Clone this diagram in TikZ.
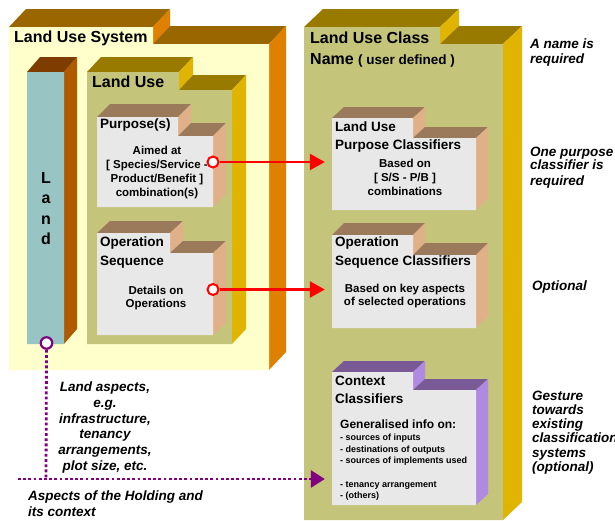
\documentclass[tikz,border=0pt]{standalone}
\usepackage{fontspec}
\setmainfont{Liberation Sans}
\usetikzlibrary{arrows.meta,fit}
\definecolor{lusF}{HTML}{FFFFCC}\definecolor{lusT}{HTML}{996600}\definecolor{lusS}{HTML}{E08000}
\definecolor{lndF}{HTML}{99C4C4}\definecolor{lndT}{HTML}{7E3C00}\definecolor{lndS}{HTML}{B05A00}
\definecolor{olvF}{HTML}{C4C47A}\definecolor{olvT}{HTML}{997A00}\definecolor{olvS}{HTML}{E0B400}
\definecolor{gryF}{HTML}{E8E8E8}\definecolor{gryT}{HTML}{9A7A5A}\definecolor{gryS}{HTML}{E0B088}
\definecolor{pplF}{HTML}{E8E8E8}\definecolor{pplT}{HTML}{7A5A96}\definecolor{pplS}{HTML}{B08AE0}
\definecolor{linkred}{HTML}{FF0000}\definecolor{linkpur}{HTML}{800080}
% #1 colour set, #2 x0, #3 ytab, #4 xtab, #5 ybody, #6 x1, #7 ybot, #8 dx, #9 dy
\newcommand{\tabbox}[9]{%
  \fill[#1T] (#2,#3) -- (#2+#8,#3-#9) -- (#4+#8,#3-#9) -- (#4,#3) -- cycle;
  \fill[#1S] (#4,#3) -- (#4+#8,#3-#9) -- (#4+#8,#5-#9) -- (#4,#5) -- cycle;
  \fill[#1T] (#4,#5) -- (#4+#8,#5-#9) -- (#6+#8,#5-#9) -- (#6,#5) -- cycle;
  \fill[#1S] (#6,#5) -- (#6+#8,#5-#9) -- (#6+#8,#7-#9) -- (#6,#7) -- cycle;
  \fill[#1F] (#2,#3) -- (#4,#3) -- (#4,#5) -- (#6,#5) -- (#6,#7) -- (#2,#7) -- cycle;
}
\tikzset{
  bodyarea/.style={inner sep=0pt, draw=none},
  ttl/.style={font=\bfseries\fontsize{16}{19}\selectfont, inner sep=0pt, anchor=west},
  sub/.style={font=\bfseries\fontsize{13.5}{16}\selectfont, inner sep=0pt, anchor=west},
  txt/.style={font=\bfseries\fontsize{11.5}{14}\selectfont, inner sep=0pt, align=center},
  note/.style={font=\bfseries\itshape\fontsize{13.5}{15}\selectfont, inner sep=0pt, align=left, anchor=west},
  letter/.style={font=\bfseries\fontsize{16}{19}\selectfont, inner sep=0pt, anchor=base},
  redring/.style={circle, draw=linkred, fill=white, line width=2pt, minimum size=11pt, inner sep=0pt},
  purring/.style={circle, draw=linkpur, fill=white, line width=2.2pt, minimum size=11.5pt, inner sep=0pt},
  redlink/.style={draw=linkred, line width=2.4pt, -{Triangle[length=15pt,width=16pt]}},
  purlink/.style={draw=linkpur, line width=2.8pt, dash pattern=on 2.8pt off 2.4pt},
  purarrow/.style={purlink, -{Triangle[length=14pt,width=17pt]}},
}
\begin{document}
\begin{tikzpicture}[x=1pt,y=-1pt]
\useasboundingbox (0,0) rectangle (615,520);
\fill[white] (0,0) rectangle (615,520);
% Land Use System
\tabbox{lus}{9}{27}{153}{44}{269}{370}{17}{18}
\node[bodyarea, fit={(9,44) (269,370)}] (lus) {};
% Land pillar
\tabbox{lnd}{27}{72}{64}{72}{64}{344}{13}{15}
\node[bodyarea, fit={(27,72) (64,344)}] (land) {};
% Land Use
\tabbox{olv}{87}{72}{179}{90}{232}{344}{14}{15}
\node[bodyarea, fit={(87,90) (232,344)}] (lu) {};
% Purpose(s)
\tabbox{gry}{97}{117}{178}{136}{213}{207}{13}{13}
\node[bodyarea, fit={(97,136) (213,207)}] (pur) {};
% Operation Sequence
\tabbox{gry}{97}{233}{170}{253}{213}{335}{13}{12}
\node[bodyarea, fit={(97,253) (213,335)}] (ops) {};
% Land Use Class Name
\tabbox{olv}{304}{27}{440}{44}{503}{520}{19}{18}
\node[bodyarea, fit={(304,44) (503,520)}] (lucn) {};
% Land Use Purpose Classifiers
\tabbox{gry}{332}{118}{413}{138}{476}{210}{12}{11}
\node[bodyarea, fit={(332,138) (476,210)}] (lupc) {};
% Operation Sequence Classifiers
\tabbox{gry}{332}{235}{413}{255}{476}{328}{12}{12}
\node[bodyarea, fit={(332,255) (476,328)}] (osc) {};
% Context Classifiers
\tabbox{ppl}{332}{372}{413}{390}{476}{505}{12}{11}
\node[bodyarea, fit={(332,390) (476,505)}] (cc) {};

% texts
\node[ttl] (tlus) at (14,38) {Land Use System};
\node[letter] (l1) at (46,183) {L};
\node[letter] (l2) at (46,203.5) {a};
\node[letter] (l3) at (46,224) {n};
\node[letter] (l4) at (46,244.5) {d};
\node[ttl] (tlu) at (92,82) {Land Use};
\node[sub] (tpur) at (100,125) {Purpose(s)};
\node[txt] (dpur) at (157,172.5) {Aimed at\\{[} Species/Service -\\Product/Benefit ]\\combination(s)};
\node[sub] (tops1) at (100,243) {Operation};
\node[sub] (tops2) at (100,262) {Sequence};
\node[txt, font=\bfseries\fontsize{11.5}{13}\selectfont] (dops) at (156,298.5) {Details on\\Operations};
\node[ttl] (tlucn1) at (310,38) {Land Use Class};
\node[ttl] (tlucn2) at (310,60) {Name {\fontsize{13.5}{16}\selectfont( user defined )}};
\node[sub] (tlupc1) at (335,127) {Land Use};
\node[sub] (tlupc2) at (335,146) {Purpose Classifiers};
\node[txt] (dlupc) at (405,177) {Based on\\{[} S/S - P/B ]\\combinations};
\node[sub] (tosc1) at (335,243) {Operation};
\node[sub] (tosc2) at (335,262) {Sequence Classifiers};
\node[txt, font=\bfseries\fontsize{11.5}{13}\selectfont] (dosc) at (405,296.5) {Based on key aspects\\of selected operations};
\node[sub] (tcc1) at (335,381) {Context};
\node[sub] (tcc2) at (335,399) {Classifiers};
\node[font=\bfseries\fontsize{12}{14}\selectfont, anchor=west, inner sep=0pt] (gcc) at (340,424) {Generalised info on:};
\node[font=\bfseries\fontsize{9}{11.6}\selectfont, align=left, anchor=north west, inner sep=0pt] (lcc) at (340,434)
  {- sources of inputs\\- destinations of outputs\\- sources of implements used\\[11.6pt]- tenancy arrangement\\- (others)};

% side notes
\node[note, font=\bfseries\itshape\fontsize{13.5}{15}\selectfont] (n1) at (530,52.5) {A name is\\required};
\node[note] (n2a) at (530,153) {One purpose};
\node[note] (n2b) at (530,165) {classifier is};
\node[note] (n2c) at (530,182) {required};
\node[note] (n3) at (532,287) {Optional};
\node[note, font=\bfseries\itshape\fontsize{13.5}{14.2}\selectfont] (n4) at (532,432.5)
  {Gesture\\towards\\existing\\classification\\systems\\(optional)};
\node[note, align=center, anchor=center, font=\bfseries\itshape\fontsize{13.5}{15.8}\selectfont] (n5) at (105,427.5)
  {Land aspects,\\e.g.\\infrastructure,\\tenancy\\arrangements,\\plot size, etc.};
\node[note, font=\bfseries\itshape\fontsize{13.5}{16}\selectfont] (n6) at (28,504) {Aspects of the Holding and\\its context};

% connectors
\coordinate (hjoin) at (46,479);
\coordinate (hstart) at (18,479);
\node[redring] (c1) at (213,162) {};
\node[redring] (c2) at (213,289.5) {};
\node[purring] (c3) at (46.5,343) {};
\draw[redlink, shorten >=7pt] (c1) -- (c1 -| lupc.west);
\draw[redlink, shorten >=7pt] (c2) -- (c2 -| osc.west);
\draw[purlink] (c3) -- (hjoin);
\draw[purarrow, shorten >=7pt] (hstart) -- (hstart -| cc.west);
\end{tikzpicture}
\end{document}
